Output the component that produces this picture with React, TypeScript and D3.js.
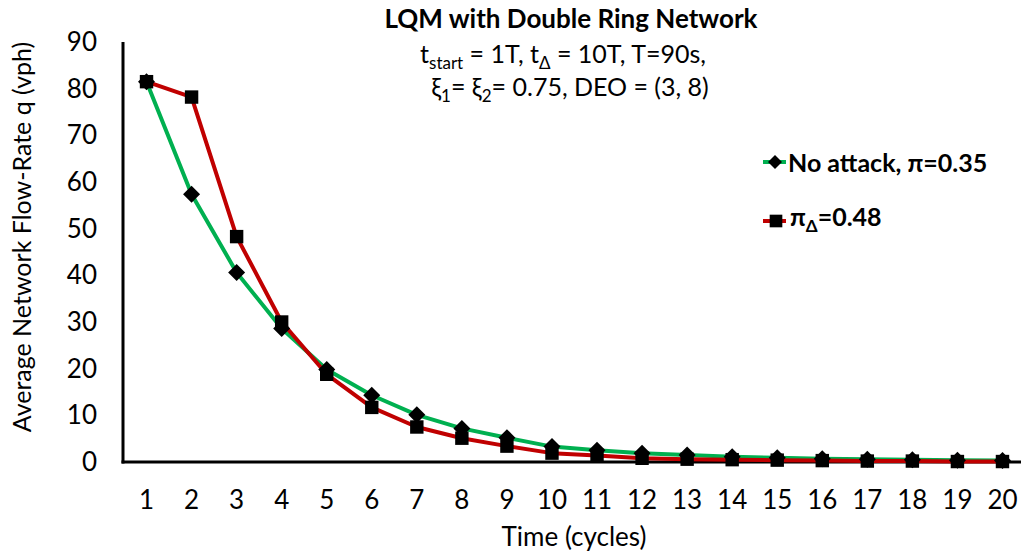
import React from "react";
import * as d3 from "d3";

const categories = ["1","2","3","4","5","6","7","8","9","10","11","12","13","14","15","16","17","18","19","20"];
const noAttack = [81.5, 57.4, 40.6, 28.6, 19.8, 14.3, 10.1, 7.2, 5.2, 3.3, 2.5, 1.9, 1.5, 1.1, 0.9, 0.7, 0.6, 0.5, 0.4, 0.3];
const attack = [81.5, 78.2, 48.3, 30.0, 18.8, 11.7, 7.5, 5.1, 3.4, 1.9, 1.4, 0.8, 0.6, 0.5, 0.4, 0.3, 0.2, 0.2, 0.1, 0.1];
const yTicks = [0, 10, 20, 30, 40, 50, 60, 70, 80, 90];

const W = 1021, H = 557;
const FONT = "Lato, 'Open Sans', sans-serif";
const GREEN = "#00B050";
const RED = "#C00000";

export default function App() {
  const x = d3.scalePoint<string>().domain(categories).range([124, 1025]).padding(0.5);
  const y = d3.scaleLinear().domain([0, 90]).range([462, 42]);
  const line = d3.line<number>().x((_, i) => x(categories[i]) as number).y((d) => y(d));
  const diamond = "M0,-8.5L8.5,0L0,8.5L-8.5,0Z";
  const square = d3.symbol().type(d3.symbolSquare).size(180)() as string;

  return (
    <svg width={W} height={H} style={{ position: "absolute", left: 0, top: 0, background: "#fff" }} fontFamily={FONT}>
      {/* Title */}
      <text x={571} y={28} textAnchor="middle" fontSize={26} fontWeight="bold">LQM with Double Ring Network</text>
      <text x={563} y={63} textAnchor="middle" fontSize={25}>
        t<tspan fontSize={17} dy={6}>start</tspan><tspan dy={-6}> = 1T, t</tspan><tspan fontSize={17} dy={6}>Δ</tspan><tspan dy={-6}> = 10T, T=90s,</tspan>
      </text>
      <text x={570} y={96} textAnchor="middle" fontSize={25}>
        ξ<tspan fontSize={17} dy={6}>1</tspan><tspan dy={-6}>= ξ</tspan><tspan fontSize={17} dy={6}>2</tspan><tspan dy={-6}>= 0.75, DEO = (3, 8)</tspan>
      </text>

      {/* Y axis */}
      <line x1={123} x2={123} y1={y(90)} y2={y(0) + 1.5} stroke="#000" strokeWidth={3} />
      {yTicks.map((t) => (
        <text key={t} x={97} y={y(t)} dy="0.35em" textAnchor="end" fontSize={26}>{t}</text>
      ))}
      <text transform={`translate(31,237) rotate(-90)`} textAnchor="middle" fontSize={25}>Average Network Flow-Rate q (vph)</text>

      {/* X axis */}
      <line x1={121.5} x2={1021} y1={y(0)} y2={y(0)} stroke="#000" strokeWidth={3} />
      {categories.map((c) => (
        <text key={c} x={x(c)} y={509} textAnchor="middle" fontSize={26}>{c}</text>
      ))}
      <text x={574} y={546} textAnchor="middle" fontSize={26}>Time (cycles)</text>

      {/* Series */}
      <path d={line(noAttack) as string} fill="none" stroke={GREEN} strokeWidth={4} strokeLinejoin="round" />
      <path d={line(attack) as string} fill="none" stroke={RED} strokeWidth={4} strokeLinejoin="round" />
      {noAttack.map((v, i) => (
        <path key={"d" + i} d={diamond} transform={`translate(${x(categories[i])},${y(v)})`} fill="#000" />
      ))}
      {attack.map((v, i) => (
        <path key={"s" + i} d={square} transform={`translate(${x(categories[i])},${y(v)})`} fill="#000" />
      ))}

      {/* Legend */}
      <line x1={763} x2={786} y1={162} y2={162} stroke={GREEN} strokeWidth={4} />
      <path d="M0,-7L7,0L0,7L-7,0Z" transform="translate(775,162)" fill="#000" />
      <text x={788} y={172} fontSize={25} fontWeight="bold">No attack, π=0.35</text>

      <line x1={763} x2={786} y1={221} y2={221} stroke={RED} strokeWidth={4} />
      <path d={d3.symbol().type(d3.symbolSquare).size(160)() as string} transform="translate(776,221)" fill="#000" />
      <text x={790} y={226} fontSize={25} fontWeight="bold">
        π<tspan fontSize={17} dy={6}>Δ</tspan><tspan dy={-6}>=0.48</tspan>
      </text>
    </svg>
  );
}
